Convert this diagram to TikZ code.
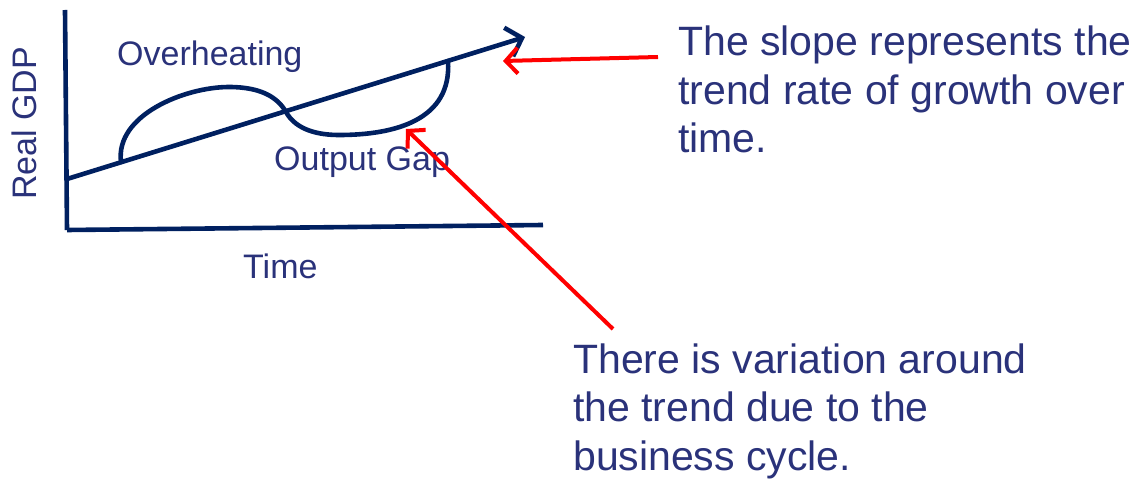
\documentclass[tikz,border=0pt]{standalone}
\usepackage{fontspec}
\setmainfont{Liberation Sans}
\usetikzlibrary{arrows.meta}
\definecolor{navy}{RGB}{0,32,96}
\definecolor{inkblue}{RGB}{42,50,122}
\definecolor{pointer}{RGB}{255,0,0}
\tikzset{
  axisline/.style={navy,line width=4.6pt},
  curveline/.style={navy,line width=4.6pt,line cap=round},
  trendarrow/.style={navy,line width=4.6pt,-{Straight Barb[length=14pt,width=30pt,line width=4.6pt]}},
  redarrow/.style={pointer,line width=4pt,-{Straight Barb[length=12pt,width=26pt,line width=4pt]}},
  axislabel/.style={inkblue,inner sep=0pt,font=\fontsize{34}{40}\selectfont},
  note/.style={inkblue,inner sep=0pt,align=left,font=\fontsize{41}{48.5}\selectfont}
}
\begin{document}
\begin{tikzpicture}[x=1pt,y=-1pt]
\useasboundingbox (0,0) rectangle (1146,481);

% axes
\coordinate (ytop) at (65,10);
\coordinate (origin) at (67,230);
\coordinate (xend) at (543,225);
\draw[axisline] (ytop) -- (origin);
\draw[axisline] (origin) -- (xend);

% trend line
\coordinate (t0) at (67,179);
\coordinate (t1) at (525,37);
\draw[trendarrow] (t0) -- (t1);

% business cycle around the trend
\coordinate (c0) at (121,162);
\coordinate (peak) at (229,87);
\coordinate (cross) at (286,112);
\coordinate (trough) at (339,135);
\coordinate (c1) at (448,61);
\draw[curveline] (c0) .. controls (115,115) and (185,87) .. (peak)
  .. controls (262,87) and (278,98) .. (cross)
  .. controls (296,130) and (318,135) .. (trough)
  .. controls (395,135) and (452,120) .. (c1);

% labels on the chart
\node[axislabel,anchor=base west] (over) at (117,66) {Overheating};
\node[axislabel,anchor=base west] (gap) at (274,171) {Output Gap};
\node[axislabel,anchor=base west] (time) at (243,278) {Time};
\node[axislabel,anchor=base west,rotate=90] (gdp) at (36,200) {Real GDP};

% explanatory notes (anchored at the baseline of their last line)
\node[note,anchor=base west] (slope) at (678,153)
  {The slope represents the\\trend rate of growth over\\time.};
\node[note,anchor=base west] (cycle) at (573,470)
  {There is variation around\\the trend due to the\\business cycle.};

% pointers
\coordinate (p1tail) at (658,57);
\coordinate (p1tip) at (503,61);
\coordinate (p2tail) at (613,329);
\coordinate (p2tip) at (406,129);
\draw[redarrow] (p1tail) -- (p1tip);
\draw[redarrow] (p2tail) -- (p2tip);
\end{tikzpicture}
\end{document}
